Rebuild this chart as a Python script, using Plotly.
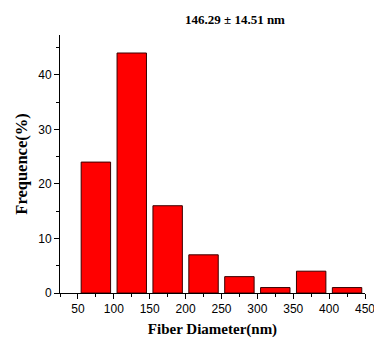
import plotly.graph_objects as go

bin_centers = [75, 125, 175, 225, 275, 325, 375, 425]
frequency = [24, 44, 16, 7, 3, 1, 4, 1]
title_text = "146.29 ± 14.51 nm"
x_title = "Fiber Diameter(nm)"
y_title = "Frequence(%)"

# page body has an 8px default margin, so the figure is shrunk by 8px
fig = go.Figure(go.Bar(
    x=bin_centers, y=frequency, width=41,
    marker=dict(color="#ff0000", line=dict(color="#3a0000", width=1)),
))

fig.update_layout(
    width=374, height=330,
    margin=dict(l=52, r=17, t=27, b=45),
    plot_bgcolor="white", paper_bgcolor="white",
    showlegend=False,
    font=dict(family="Liberation Sans, Arial", size=12, color="black"),
    annotations=[dict(text="<b>" + title_text + "</b>",
                      x=(235 - 60) / 305, y=1 + (35 - 20) / 258,
                      xref="paper", yref="paper", xanchor="center", yanchor="middle",
                      showarrow=False, font=dict(family="Liberation Serif", size=13, color="black"))],
)

fig.update_xaxes(
    automargin=False,
    range=[25, 450], tick0=50, dtick=50, ticks="outside", ticklen=5, tickcolor="black",
    showline=True, linecolor="black", linewidth=1, showgrid=False, zeroline=False,
    minor=dict(ticks="outside", dtick=25, tick0=25, ticklen=3, tickcolor="black"),
    title=dict(text="<b>" + x_title + "</b>", font=dict(family="Liberation Serif", size=15), standoff=10),
)
fig.update_yaxes(
    automargin=False,
    range=[0, 47.3], tick0=0, dtick=10, ticks="outside", ticklen=5, tickcolor="black",
    showline=True, linecolor="black", linewidth=1, showgrid=False, zeroline=False,
    minor=dict(ticks="outside", dtick=5, ticklen=3, tickcolor="black"),
    title=dict(text="<b>" + y_title + "</b>", font=dict(family="Liberation Serif", size=16.5), standoff=6),
)

fig.write_html("out.html")
